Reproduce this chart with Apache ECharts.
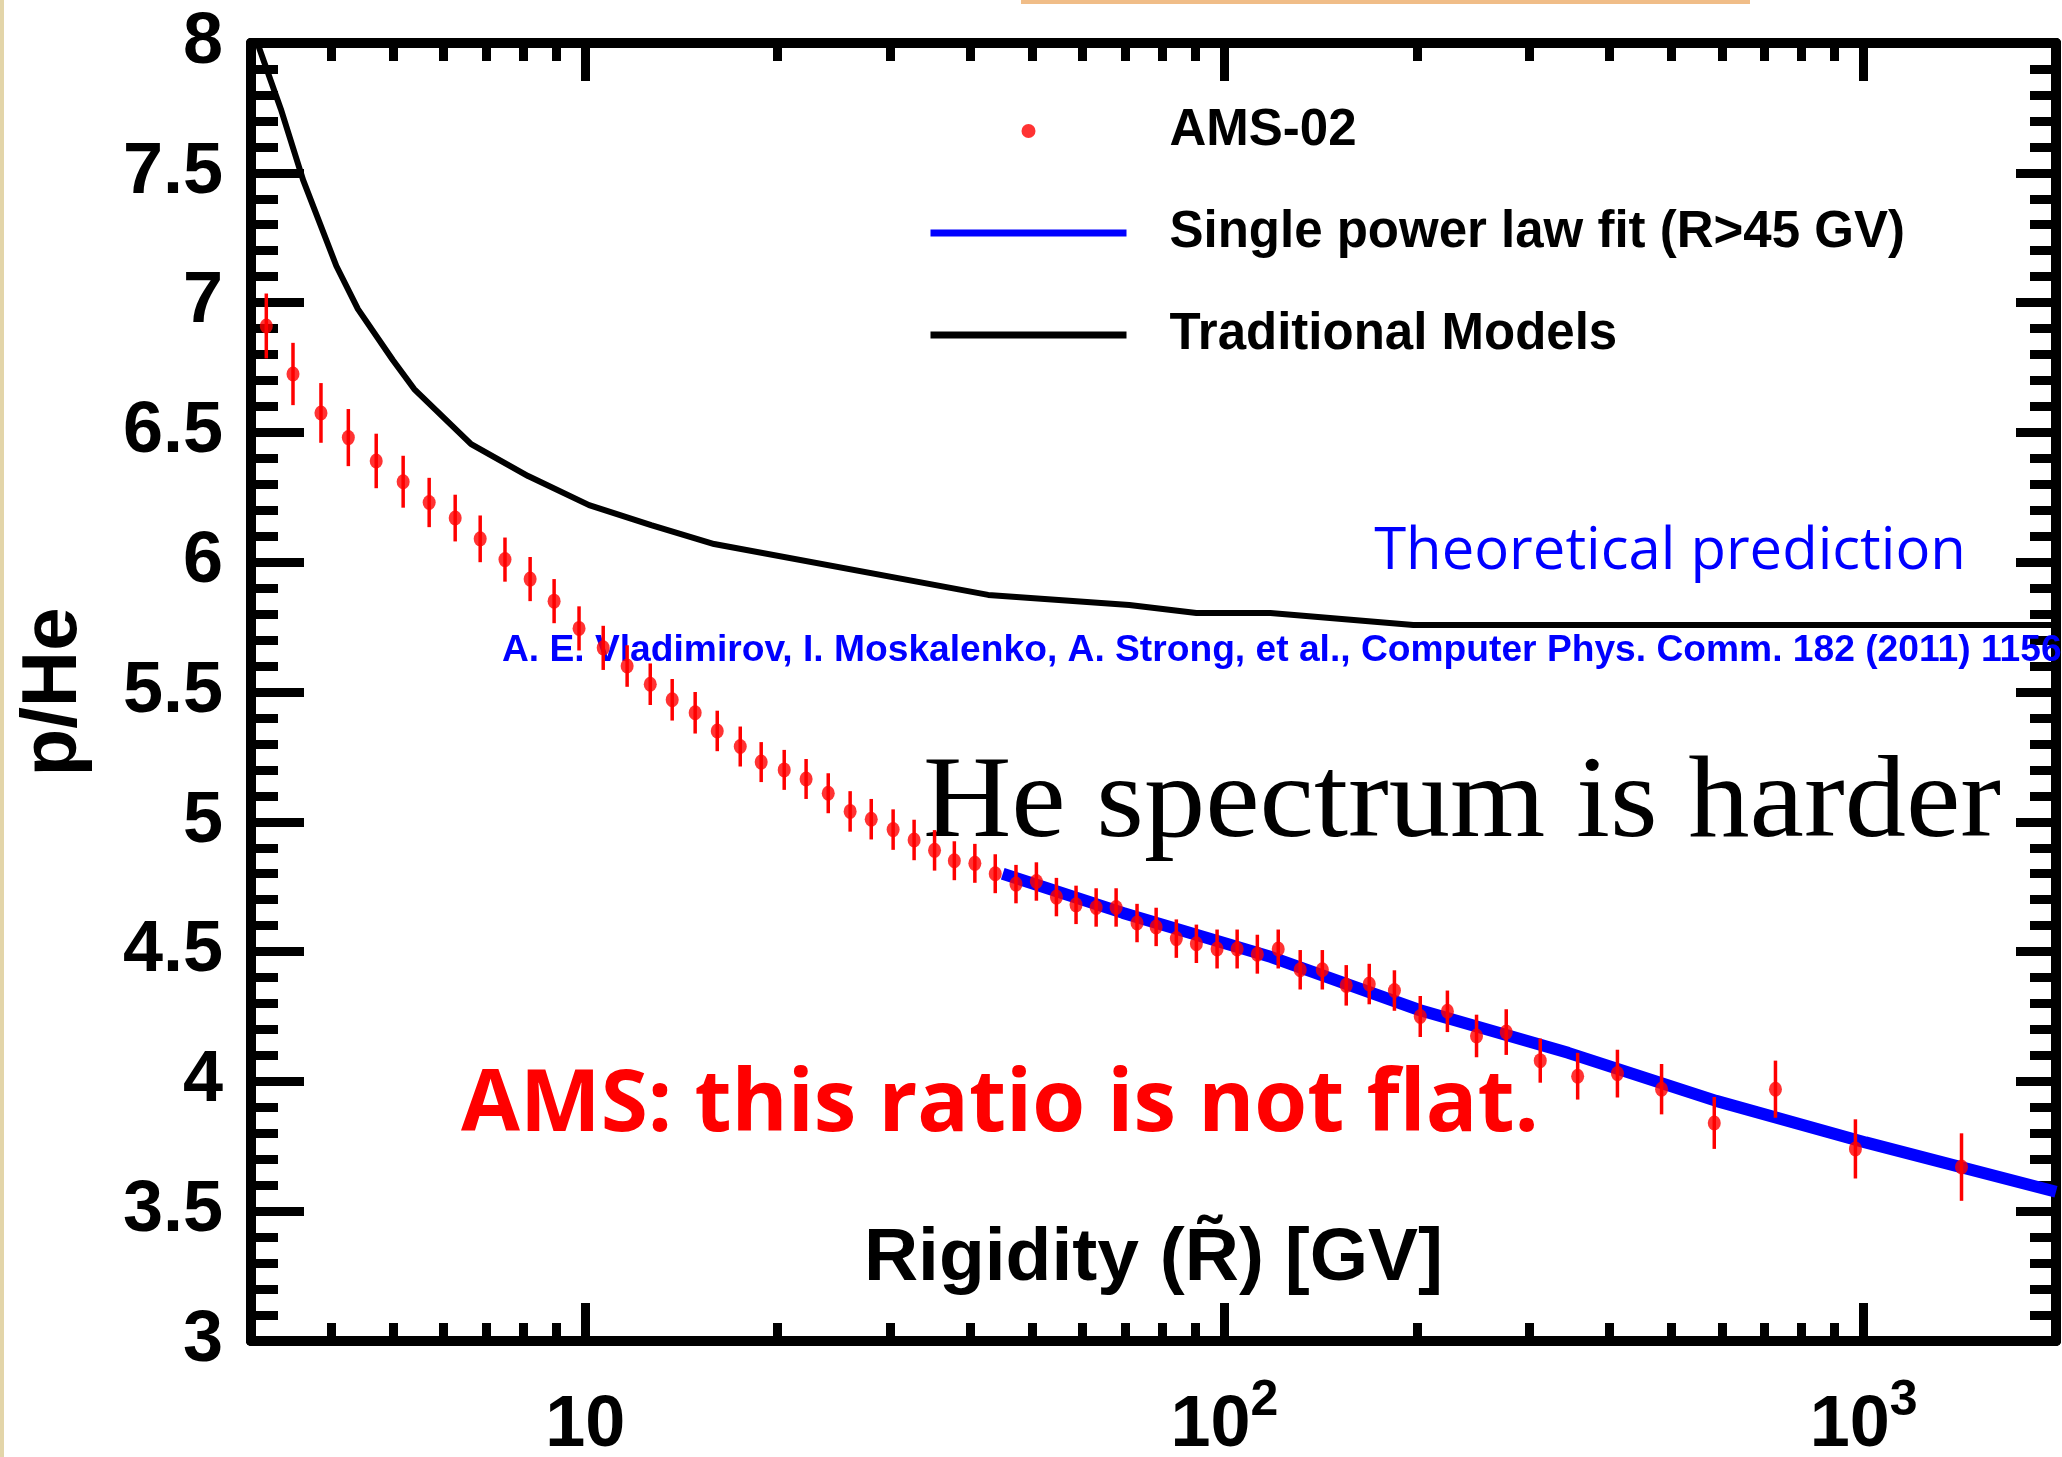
<!DOCTYPE html>
<html>
<head>
<meta charset="utf-8">
<title>p/He ratio</title>
<script src="https://cdn.jsdelivr.net/npm/echarts@6/dist/echarts.min.js"></script>
<style>
    html, body { margin: 0; padding: 0; background: #fff; }
    #chart { width: 2062px; height: 1457px; }
</style>
</head>
<body>
<div id="chart"></div>
<script>
    // AMS-02 p/He ratio
    var rigidity = [3.17, 3.49, 3.86, 4.26, 4.71, 5.19, 5.70, 6.26, 6.85, 7.49,
        8.20, 8.94, 9.78, 10.67, 11.63, 12.64, 13.68, 14.86, 16.09, 17.48,
        18.85, 20.48, 22.16, 24.0, 25.97, 28.02, 30.32, 32.7, 35.2, 37.8,
        40.7, 43.8, 47.2, 50.8, 54.6, 58.6, 63.0, 67.7, 73.0, 78.2,
        84.1, 90.4, 97.4, 104.7, 112.6, 121.4, 131.4, 142.3, 155.1, 168.5,
        184.5, 202.5, 223.3, 248, 276, 312, 357, 412, 483, 584,
        728, 971, 1423];
    var ratio = [6.91, 6.725, 6.575, 6.48, 6.39, 6.31, 6.23, 6.17, 6.09, 6.01,
        5.935, 5.85, 5.745, 5.67, 5.60, 5.53, 5.47, 5.42, 5.35, 5.29,
        5.23, 5.20, 5.165, 5.11, 5.04, 5.01, 4.97, 4.93, 4.89, 4.85,
        4.84, 4.80, 4.76, 4.77, 4.71, 4.68, 4.67, 4.67, 4.61, 4.595,
        4.55, 4.53, 4.51, 4.51, 4.49, 4.51, 4.43, 4.43, 4.37, 4.375,
        4.35, 4.25, 4.27, 4.175, 4.19, 4.08, 4.02, 4.03, 3.97, 3.84,
        3.97, 3.74, 3.67];
    var ratioErr = [0.125, 0.12, 0.115, 0.11, 0.105, 0.1, 0.095, 0.09, 0.09, 0.085,
        0.085, 0.085, 0.085, 0.085, 0.08, 0.08, 0.08, 0.08, 0.078, 0.077,
        0.077, 0.077, 0.077, 0.077, 0.078, 0.078, 0.078, 0.078, 0.078, 0.075,
        0.075, 0.075, 0.074, 0.074, 0.074, 0.074, 0.074, 0.074, 0.074, 0.074,
        0.074, 0.074, 0.075, 0.075, 0.075, 0.075, 0.076, 0.076, 0.078, 0.078,
        0.078, 0.079, 0.08, 0.082, 0.088, 0.085, 0.09, 0.092, 0.097, 0.1,
        0.11, 0.114, 0.13];

    // single power law fit (R>45 GV)
    var fitR = [45, 69.4, 118.4, 201.8, 345, 588, 1007, 2000];
    var fitRatio = [4.80, 4.649, 4.479, 4.275, 4.11, 3.925, 3.765, 3.575];

    // traditional models (theoretical prediction)
    var modelR = [3.07, 3.34, 3.62, 4.08, 4.41, 5.00, 5.40, 6.63, 8.14, 10.14,
        12.68, 15.91, 42.7, 71.0, 90.4, 118, 197.5, 2000];
    var modelRatio = [8.0, 7.746, 7.472, 7.141, 6.975, 6.779, 6.667, 6.455, 6.332, 6.22,
        6.143, 6.07, 5.874, 5.835, 5.804, 5.804, 5.758, 5.758];

    var xMajorTicks = [10, 100, 1000];
    var xMinorTicks = [4, 5, 6, 7, 8, 9, 20, 30, 40, 50, 60, 70, 80, 90,
        200, 300, 400, 500, 600, 700, 800, 900];

    var FONT = 'Liberation Sans';
    var chart = echarts.init(document.getElementById('chart'));

    function pairs(xs, ys) {
        return xs.map(function (x, i) { return [x, ys[i]]; });
    }

    function logAxis(grid, pos, ticks, len, withLabels) {
        var ax = {
            type: 'log', logBase: 10, min: 3, max: 2000,
            gridIndex: grid, position: pos,
            axisLine: { show: true, onZero: false, lineStyle: { color: '#000', width: 10 } },
            axisTick: { show: true, inside: true, length: len, customValues: ticks,
                lineStyle: { color: '#000', width: 9 } },
            axisLabel: { show: false },
            minorTick: { show: false },
            splitLine: { show: false }
        };
        if (withLabels) {
            ax.axisLabel = {
                show: true, customValues: ticks, margin: 35,
                formatter: function (v) {
                    var p = Math.round(Math.log(v) / Math.LN10);
                    return p === 1 ? '{b|10}' : '{b|10}{s|' + p + '}';
                },
                rich: {
                    b: { fontFamily: FONT, fontWeight: 'bold', fontSize: 72, lineHeight: 86,
                        color: '#000', verticalAlign: 'bottom' },
                    s: { fontFamily: FONT, fontWeight: 'bold', fontSize: 50, lineHeight: 50,
                        color: '#000', verticalAlign: 'top' }
                }
            };
            ax.name = 'Rigidity (R\u0303) [GV]';
            ax.nameLocation = 'middle';
            ax.nameGap = -119;
            ax.nameMoveOverlap = false;
            ax.nameTextStyle = { fontFamily: FONT, fontWeight: 'bold', fontSize: 75, color: '#000' };
        }
        return ax;
    }

    function valueAxis(grid, pos, major, minor, withLabels) {
        return {
            type: 'value', min: 3, max: 8, interval: 0.5,
            gridIndex: grid, position: pos,
            axisLine: { show: true, onZero: false, lineStyle: { color: '#000', width: 10 } },
            axisTick: { show: true, inside: true, length: major, lineStyle: { color: '#000', width: 9 } },
            minorTick: { show: true, splitNumber: 5, length: minor, lineStyle: { color: '#000', width: 9 } },
            axisLabel: { show: withLabels, margin: 28, fontFamily: FONT, fontWeight: 'bold',
                fontSize: 72, color: '#000' },
            splitLine: { show: false },
            name: withLabels ? 'p/He' : '',
            nameLocation: 'middle', nameGap: 158, nameMoveOverlap: false,
            nameTextStyle: { fontFamily: FONT, fontWeight: 'bold', fontSize: 78, color: '#000' }
        };
    }

    var gridBox = { left: 251, right: 6, top: 43, bottom: 116, outerBoundsMode: 'none' };

    // line items of the legend: line only, no marker in the middle
    var noMarker = { color: 'transparent', opacity: 0, borderWidth: 0 };

    var option = {
        animation: false,
        backgroundColor: '#fff',
        grid: [
            Object.assign({}, gridBox),
            Object.assign({}, gridBox)
        ],
        xAxis: [
            logAxis(0, 'bottom', xMajorTicks, 38, true),
            logAxis(0, 'top', xMajorTicks, 38, false),
            logAxis(1, 'bottom', xMinorTicks, 18, false),
            logAxis(1, 'top', xMinorTicks, 18, false)
        ],
        yAxis: [
            valueAxis(0, 'left', 53, 27, true),
            valueAxis(0, 'right', 40, 26, false),
            { type: 'value', gridIndex: 1, min: 3, max: 8, show: false }
        ],
        legend: {
            data: [
                { name: 'AMS-02' },
                { name: 'Single power law fit (R>45 GV)', itemStyle: noMarker },
                { name: 'Traditional Models', itemStyle: noMarker }
            ],
            orient: 'vertical', left: 922, top: 96,
            itemWidth: 196, itemHeight: 14, itemGap: 42,
            selectedMode: false,
            lineStyle: { width: 7 },
            textStyle: { fontFamily: FONT, fontWeight: 'bold', fontSize: 51, lineHeight: 60,
                color: '#000', padding: [0, 0, 0, 38] }
        },
        graphic: [
            { type: 'rect', silent: true, shape: { x: 0, y: 0, width: 4, height: 1457 },
                style: { fill: '#e3d5a9' } },
            { type: 'rect', silent: true, shape: { x: 1021, y: 0, width: 729, height: 4 },
                style: { fill: '#f0bd88' } },
            { type: 'text', z: 1, x: 1670, y: 552,
                style: { text: 'Theoretical prediction', fontFamily: 'Open Sans', fontSize: 58,
                    fill: '#0000ff', textAlign: 'center', textVerticalAlign: 'middle' } },
            { type: 'text', z: 1, x: 502, y: 651,
                style: { text: 'A. E. Vladimirov, I. Moskalenko, A. Strong, et al., Computer Phys. Comm. 182 (2011) 1156',
                    fontFamily: FONT, fontWeight: 'bold', fontSize: 37.2,
                    fill: '#0000ff', textAlign: 'left', textVerticalAlign: 'middle' } },
            { type: 'text', z: 1, x: 1462, y: 806, scaleX: 1.056, originX: 0,
                style: { text: 'He spectrum is harder', fontFamily: 'Liberation Serif', fontSize: 116,
                    fill: '#000', textAlign: 'center', textVerticalAlign: 'middle' } },
            { type: 'text', z: 1, x: 1000, y: 1107,
                style: { text: 'AMS: this ratio is not flat.', fontFamily: 'Open Sans', fontWeight: 'bold',
                    fontSize: 85.5, fill: '#ff0000', textAlign: 'center', textVerticalAlign: 'middle' } }
        ],
        series: [
            {
                name: 'Traditional Models', type: 'line', xAxisIndex: 0, yAxisIndex: 0,
                data: pairs(modelR, modelRatio), symbol: 'none', z: 2,
                itemStyle: { color: '#000' },
                lineStyle: { color: '#000', width: 6 }
            },
            {
                name: 'Single power law fit (R>45 GV)', type: 'line', xAxisIndex: 0, yAxisIndex: 0,
                data: pairs(fitR, fitRatio), symbol: 'none', z: 2,
                itemStyle: { color: '#0000ff' },
                lineStyle: { color: '#0000ff', width: 12 }
            },
            {
                name: 'AMS-02 errors', type: 'custom', xAxisIndex: 0, yAxisIndex: 0, z: 3,
                data: rigidity.map(function (r, i) { return [r, ratio[i], ratioErr[i]]; }),
                encode: { x: 0, y: 1 },
                renderItem: function (params, api) {
                    var x = api.value(0), y = api.value(1), e = api.value(2);
                    var top = api.coord([x, y + e]);
                    var bot = api.coord([x, y - e]);
                    return {
                        type: 'line',
                        shape: { x1: top[0], y1: top[1], x2: bot[0], y2: bot[1] },
                        style: { stroke: '#ff0000', lineWidth: 3.5 }
                    };
                }
            },
            {
                name: 'AMS-02', type: 'scatter', xAxisIndex: 0, yAxisIndex: 0, z: 4,
                data: pairs(rigidity, ratio), symbol: 'circle', symbolSize: [13, 15],
                itemStyle: { color: '#ff0000' }
            }
        ]
    };

    chart.setOption(option);
</script>
</body>
</html>
